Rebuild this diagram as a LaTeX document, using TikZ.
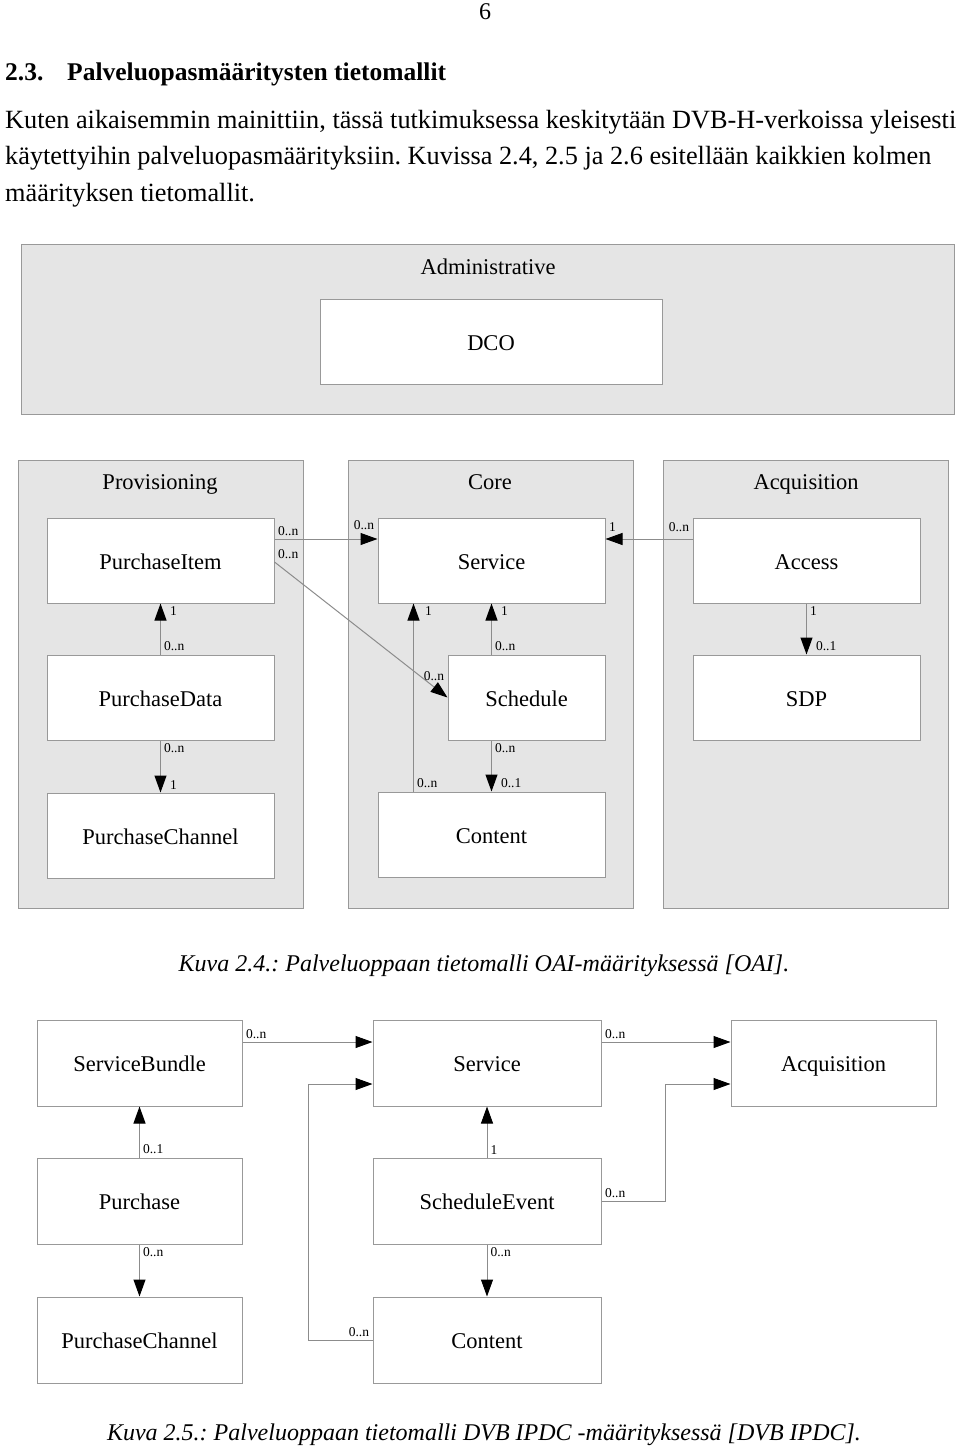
\documentclass[tikz,border=0pt]{standalone}
\usepackage{fontspec}
\setmainfont{Liberation Serif}
\usetikzlibrary{arrows.meta, positioning}
\frenchspacing

\begin{document}
\begin{tikzpicture}[
    x=1pt, y=-1pt,
    node distance=51pt,
    pkg/.style={rectangle, draw=gray!80, fill=gray!20, line width=1pt, anchor=north west},
    cls/.style={rectangle, draw=gray!80, fill=white, line width=1pt, minimum width=227pt, minimum height=85pt, inner sep=0pt, text height=18pt, text depth=1pt, font=\fontsize{22.5}{26}\selectfont},
    title/.style={anchor=base, font=\fontsize{22.5}{26}\selectfont},
    mult/.style={font=\fontsize{13.5}{15}\selectfont, inner sep=3pt},
    arrow/.style={draw=gray!90, line width=1pt, -{Triangle[length=17pt, width=12pt, color=black]}},
    body/.style={anchor=base west, inner sep=0pt, font=\fontsize{26.3}{36}\selectfont},
    heading/.style={anchor=base west, inner sep=0pt, font=\bfseries\fontsize{25.5}{30}\selectfont},
    caption/.style={anchor=base, inner sep=0pt, font=\itshape\fontsize{24}{28}\selectfont}
]
\useasboundingbox (0,0) rectangle (960,1450);

% Page text
\node[anchor=base, font=\fontsize{24}{28}\selectfont] (pagenum) at (485,20) {6};
\node[heading] (secnum) at (5,81) {2.3.};
\node[heading] (sectitle) at (67,81) {Palveluopasmääritysten tietomallit};
\node[body] (line1) at (5,129) {Kuten aikaisemmin mainittiin, tässä tutkimuksessa keskitytään DVB-H-verkoissa yleisesti};
\node[body] (line2) at (5,165) {käytettyihin palveluopasmäärityksiin. Kuvissa 2.4, 2.5 ja 2.6 esitellään kaikkien kolmen};
\node[body] (line3) at (5,201) {määrityksen tietomallit.};

% Figure 2.4 - packages
\node[pkg, minimum width=933pt, minimum height=170pt] (admin) at (21,244) {};
\node[pkg, minimum width=285pt, minimum height=448pt] (prov) at (18,460) {};
\node[pkg, minimum width=285pt, minimum height=448pt] (core) at (348,460) {};
\node[pkg, minimum width=285pt, minimum height=448pt] (acq) at (663,460) {};
\node[title] (admintitle) at (488,274) {Administrative};
\node[title] (provtitle) at (160,489) {Provisioning};
\node[title] (coretitle) at (490,489) {Core};
\node[title] (acqtitle) at (806,489) {Acquisition};

% Figure 2.4 - classes
\node[cls, minimum width=342pt] (dco) at (491,341.5) {DCO};
\node[cls] (pitem) at (160.5,560.5) {PurchaseItem};
\node[cls, right=103pt of pitem] (service) {Service};
\node[cls, right=87pt of service] (access) {Access};
\node[cls, below=of pitem] (pdata) {PurchaseData};
\node[cls, below=52pt of pdata] (pchannel) {PurchaseChannel};
\node[cls, minimum width=157pt, below=of service.south east, anchor=north east] (schedule) {Schedule};
\node[cls, below=188pt of service] (content) {Content};
\node[cls, below=of access] (sdp) {SDP};

% Figure 2.4 - associations
\draw[arrow] ([yshift=21.5pt]pitem.east) -- node[mult, at start, above right]{0..n} node[mult, at end, above left, yshift=6pt]{0..n} ([yshift=21.5pt]service.west);
\draw[arrow] ([yshift=-1.5pt]pitem.east) -- node[mult, at start, above right]{0..n} node[mult, at end, above left, yshift=13pt]{0..n} (schedule.west);
\draw[arrow] ([yshift=21.5pt]access.west) -- node[mult, at start, above left, yshift=4pt]{0..n} node[mult, at end, above right, yshift=4pt]{1} ([yshift=21.5pt]service.east);
\draw[arrow] (pdata.north) -- node[mult, at start, above right]{0..n} node[mult, at end, below right, xshift=6pt]{1} (pitem.south);
\draw[arrow] (pdata.south) -- node[mult, at start, below right]{0..n} node[mult, at end, above right, xshift=6pt]{1} (pchannel.north);
\draw[arrow] ([xshift=-78pt]content.north) -- node[mult, at start, above right]{0..n} node[mult, at end, below right, xshift=8pt]{1} ([xshift=-78pt]service.south);
\draw[arrow] (service.south |- schedule.north) -- node[mult, at start, above right]{0..n} node[mult, at end, below right, xshift=6pt]{1} (service.south);
\draw[arrow] (service.south |- schedule.south) -- node[mult, at start, below right]{0..n} node[mult, at end, above right, xshift=6pt]{0..1} (content.north);
\draw[arrow] (access.south) -- node[mult, at start, below right]{1} node[mult, at end, above right, xshift=6pt]{0..1} (sdp.north);

\node[caption] (cap1) at (484,971) {Kuva 2.4.: Palveluoppaan tietomalli OAI-määrityksessä [OAI].};

% Figure 2.5 - classes
\node[cls, minimum width=205pt, minimum height=86pt] (bundle) at (139.5,1063) {ServiceBundle};
\node[cls, minimum width=228pt, minimum height=86pt, right=130pt of bundle] (service2) {Service};
\node[cls, minimum width=205pt, minimum height=86pt, right=129pt of service2] (acq2) {Acquisition};
\node[cls, minimum width=205pt, minimum height=86pt, below=of bundle] (purchase) {Purchase};
\node[cls, minimum width=228pt, minimum height=86pt, below=of service2] (sevent) {ScheduleEvent};
\node[cls, minimum width=205pt, minimum height=86pt, below=52pt of purchase] (pchannel2) {PurchaseChannel};
\node[cls, minimum width=228pt, minimum height=86pt, below=52pt of sevent] (content2) {Content};

% Figure 2.5 - associations
\draw[arrow] ([yshift=21pt]bundle.east) -- node[mult, at start, above right]{0..n} ([yshift=21pt]service2.west);
\draw[arrow] (content2.west) -- node[mult, at start, above left]{0..n} ++(-64,0) |- ([yshift=-21pt]service2.west);
\draw[arrow] ([yshift=21pt]service2.east) -- node[mult, at start, above right]{0..n} ([yshift=21pt]acq2.west);
\draw[arrow] (sevent.east) -- node[mult, at start, above right]{0..n} ++(64,0) |- ([yshift=-21pt]acq2.west);
\draw[arrow] (purchase.north) -- node[mult, at start, above right]{0..1} (bundle.south);
\draw[arrow] (sevent.north) -- node[mult, at start, above right]{1} (service2.south);
\draw[arrow] (purchase.south) -- node[mult, at start, below right]{0..n} (pchannel2.north);
\draw[arrow] (sevent.south) -- node[mult, at start, below right]{0..n} (content2.north);

\node[caption] (cap2) at (484,1440) {Kuva 2.5.: Palveluoppaan tietomalli DVB IPDC -määrityksessä [DVB IPDC].};

\end{tikzpicture}
\end{document}
